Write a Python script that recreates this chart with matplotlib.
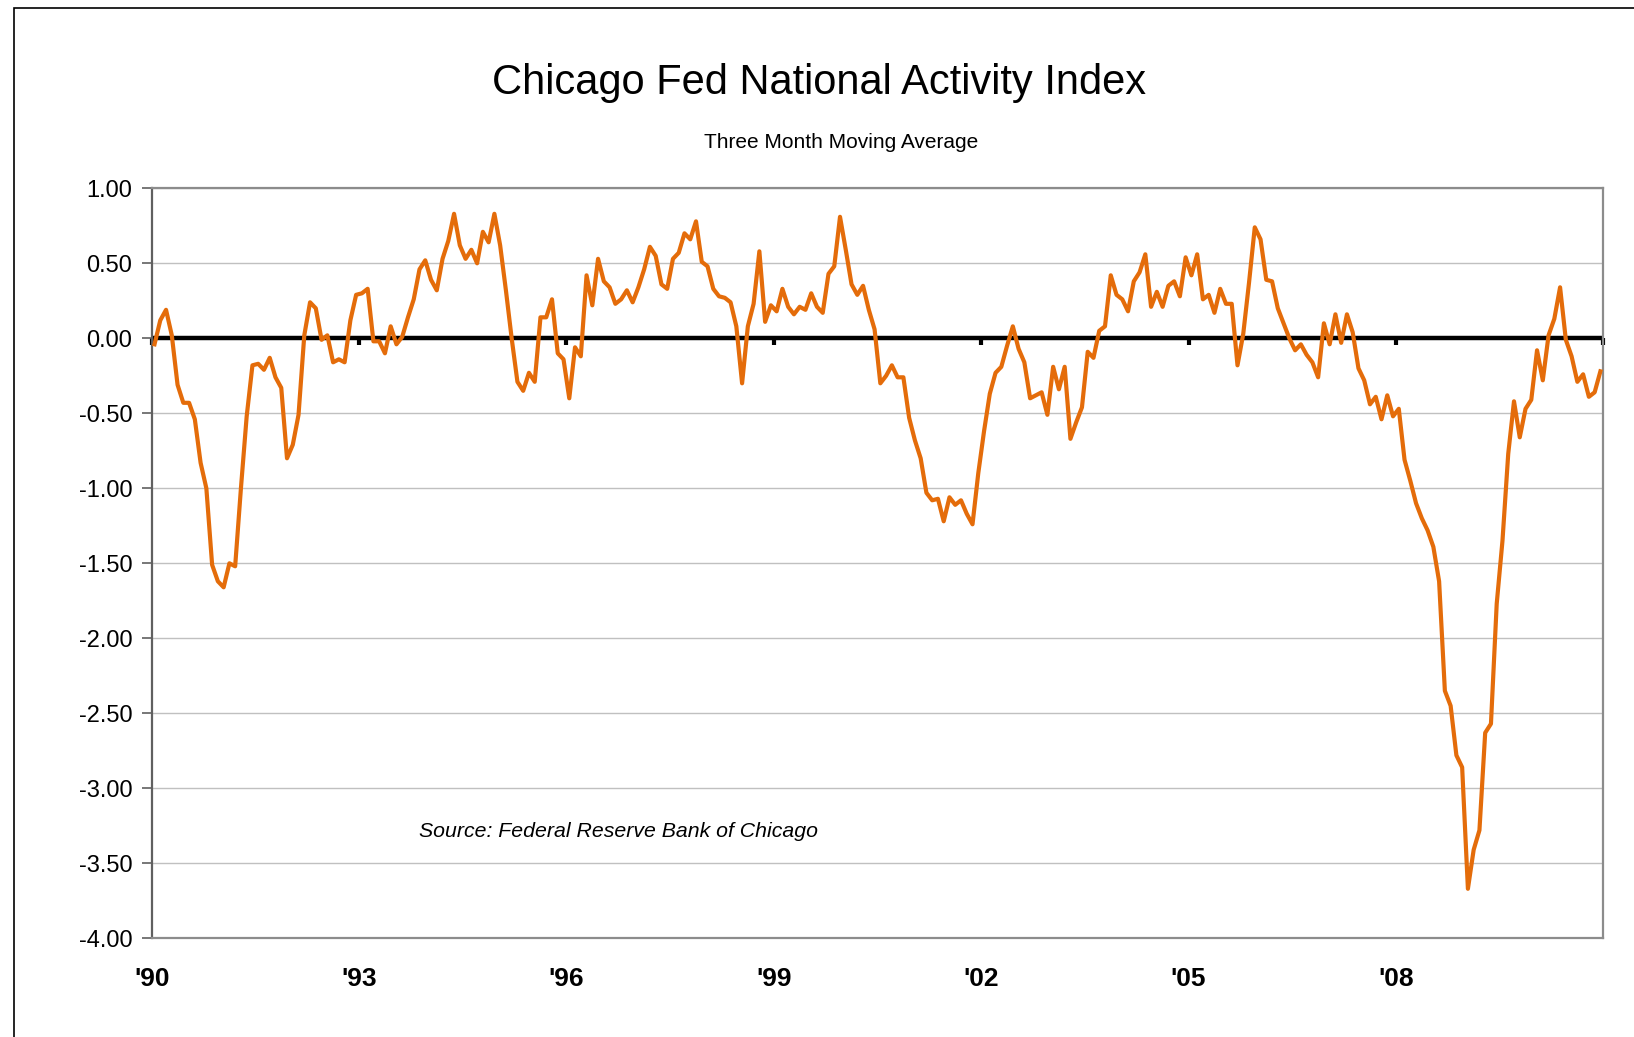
import numpy as np
import matplotlib
matplotlib.use('Agg')
import matplotlib.pyplot as plt
from matplotlib.patches import Rectangle

# Chicago Fed National Activity Index, 3-month moving average, monthly from Jan 1990
cfnai_ma3 = [
    -0.04, 0.12, 0.19, 0.02, -0.31, -0.43, -0.43, -0.54, -0.83, -1.00, -1.51, -1.62,   # 1990
    -1.66, -1.50, -1.52, -1.00, -0.52, -0.18, -0.17, -0.21, -0.13, -0.26, -0.33, -0.80,  # 1991
    -0.71, -0.51, 0.02, 0.24, 0.20, -0.01, 0.02, -0.16, -0.14, -0.16, 0.12, 0.29,      # 1992
    0.30, 0.33, -0.02, -0.02, -0.10, 0.08, -0.04, 0.01, 0.14, 0.26, 0.46, 0.52,        # 1993
    0.39, 0.32, 0.53, 0.65, 0.83, 0.62, 0.53, 0.59, 0.50, 0.71, 0.64, 0.83,            # 1994
    0.62, 0.32, 0.00, -0.29, -0.35, -0.23, -0.29, 0.14, 0.14, 0.26, -0.10, -0.14,      # 1995
    -0.40, -0.06, -0.12, 0.42, 0.22, 0.53, 0.38, 0.34, 0.23, 0.26, 0.32, 0.24,         # 1996
    0.34, 0.46, 0.61, 0.55, 0.36, 0.33, 0.53, 0.57, 0.70, 0.66, 0.78, 0.51,            # 1997
    0.48, 0.33, 0.28, 0.27, 0.24, 0.08, -0.30, 0.08, 0.23, 0.58, 0.11, 0.22,           # 1998
    0.18, 0.33, 0.21, 0.16, 0.21, 0.19, 0.30, 0.21, 0.17, 0.43, 0.48, 0.81,            # 1999
    0.59, 0.36, 0.29, 0.35, 0.19, 0.06, -0.30, -0.25, -0.18, -0.26, -0.26, -0.53,      # 2000
    -0.68, -0.80, -1.03, -1.08, -1.07, -1.22, -1.06, -1.11, -1.08, -1.17, -1.24, -0.90,  # 2001
    -0.62, -0.37, -0.23, -0.19, -0.05, 0.08, -0.07, -0.16, -0.40, -0.38, -0.36, -0.51,  # 2002
    -0.19, -0.34, -0.19, -0.67, -0.56, -0.46, -0.09, -0.13, 0.05, 0.08, 0.42, 0.29,     # 2003
    0.26, 0.18, 0.38, 0.44, 0.56, 0.21, 0.31, 0.21, 0.35, 0.38, 0.28, 0.54,            # 2004
    0.42, 0.56, 0.26, 0.29, 0.17, 0.33, 0.23, 0.23, -0.18, 0.03, 0.37, 0.74,           # 2005
    0.66, 0.39, 0.38, 0.20, 0.10, 0.00, -0.08, -0.04, -0.11, -0.16, -0.26, 0.10,       # 2006
    -0.04, 0.16, -0.03, 0.16, 0.04, -0.20, -0.28, -0.44, -0.39, -0.54, -0.38, -0.52,   # 2007
    -0.47, -0.81, -0.95, -1.10, -1.20, -1.28, -1.39, -1.62, -2.35, -2.45, -2.78, -2.86,  # 2008
    -3.67, -3.41, -3.28, -2.63, -2.57, -1.77, -1.35, -0.77, -0.42, -0.66, -0.47, -0.41,  # 2009
    -0.08, -0.28, 0.02, 0.13, 0.34, -0.01, -0.12, -0.29, -0.24, -0.39, -0.36, -0.22,    # 2010
]
year_labels = ["'90", "'93", "'96", "'99", "'02", "'05", "'08"]
y_ticks = [1.0, 0.5, 0.0, -0.5, -1.0, -1.5, -2.0, -2.5, -3.0, -3.5, -4.0]

title = 'Chicago Fed National Activity Index'
subtitle = 'Three Month Moving Average'
source = 'Source: Federal Reserve Bank of Chicago'

plt.rcParams['font.family'] = ['Liberation Sans', 'DejaVu Sans']
plt.rcParams['axes.unicode_minus'] = False

orange = '#E46C0A'
n_months = len(cfnai_ma3)
months = np.arange(n_months) + 0.5

fig = plt.figure(figsize=(16.34, 10.37), dpi=100)
fig.patches.append(Rectangle((0.0085, -0.05), 1.2, 1.042, transform=fig.transFigure,
                             fill=False, edgecolor='black', linewidth=1.2))

ax = fig.add_axes([0.0928, 0.0952, 0.8884, 0.7232])
ax.set_xlim(0, 252)
ax.set_ylim(-4.0, 1.0)

# grid + zero axis
ax.set_yticks(y_ticks)
ax.set_yticklabels(['%.2f' % v for v in y_ticks], fontsize=17)
ax.grid(axis='y', color='#C0C0C0', linewidth=1.0, zorder=0)
ax.axhline(0, color='black', linewidth=3.2, zorder=2)

ax.plot(months, cfnai_ma3, color=orange, linewidth=3.0, zorder=3, solid_joinstyle='round')

# x labels at the bottom, tick marks hanging under the zero line
tick_pos = np.arange(0, 253, 36)
ax.set_xticks(tick_pos[:len(year_labels)])
ax.set_xticklabels(year_labels, fontsize=19, fontweight='bold')
ax.tick_params(axis='x', length=0, pad=21)
ax.tick_params(axis='y', length=7, width=1.2, color='#606060', pad=7)

zero_ax = ax.secondary_xaxis(0.8)
zero_ax.set_xticks(tick_pos)
zero_ax.tick_params(axis='x', which='both', direction='in', length=5, width=3, color='black',
                    labeltop=False, labelbottom=False, top=True, bottom=False)
for sp in zero_ax.spines.values():
    sp.set_visible(False)

for side in ['top', 'right', 'bottom']:
    ax.spines[side].set_color('#8C8C8C')
    ax.spines[side].set_linewidth(1.6)
ax.spines['left'].set_color('#606060')
ax.spines['left'].set_linewidth(1.6)

fig.text(0.501, 0.920, title, ha='center', va='center', fontsize=30)
fig.text(0.515, 0.863, subtitle, ha='center', va='center', fontsize=15)
ax.text(0.184, 0.143, source, transform=ax.transAxes, ha='left', va='center',
        fontsize=15.3, style='italic')

fig.savefig('out.png', dpi=100)
